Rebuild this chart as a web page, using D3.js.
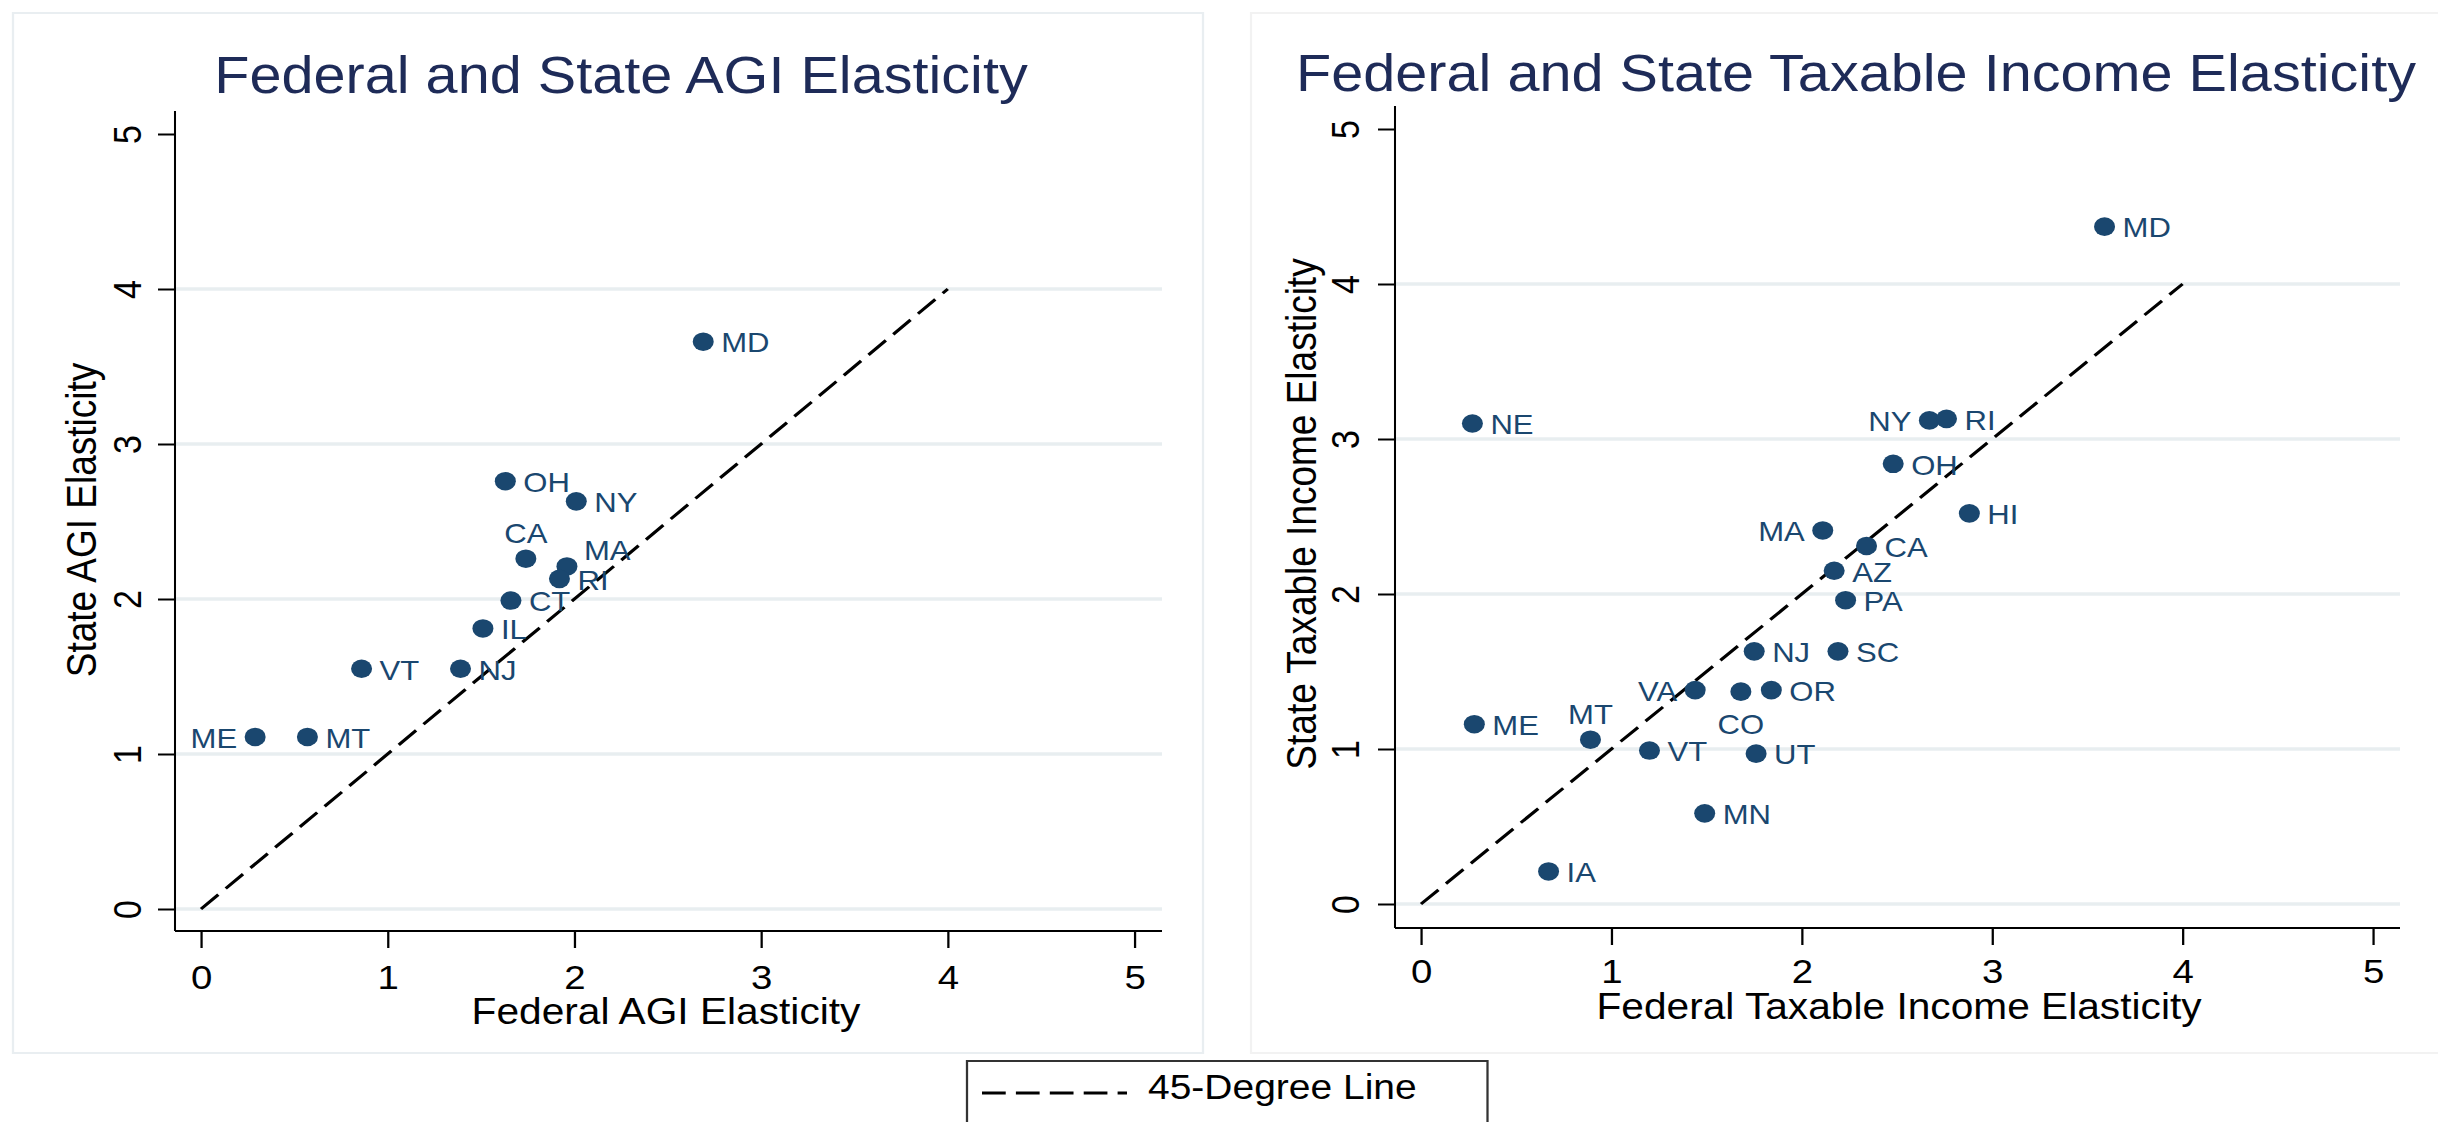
<html>
<head>
<meta charset="utf-8">
<title>Federal and State Elasticities</title>
<script src="https://d3js.org/d3.v7.min.js"></script>
<style>
  body { margin: 0; background: #fff; }
  text { font-family: "Liberation Sans", Arial, sans-serif; }
</style>
</head>
<body>
<script>
// ---- data ----
const ticks = [0, 1, 2, 3, 4, 5]
const diagonal = [0, 4]   // 45-degree line runs from 0 to 4

const agiStates  = ["MD", "OH", "NY", "CA", "MA", "RI", "CT", "IL", "NJ", "VT", "MT", "ME"]
const agiFederal = [2.69, 1.63, 2.01, 1.74, 1.96, 1.92, 1.66, 1.51, 1.39, 0.86, 0.57, 0.29]
const agiState   = [3.66, 2.76, 2.63, 2.26, 2.21, 2.13, 1.99, 1.81, 1.55, 1.55, 1.11, 1.11]
const agiLabelPos = [3, 3, 3, 12, 2, 3, 3, 3, 3, 3, 3, 9]   // clock positions of marker labels

const tiStates  = ["MD", "NE", "NY", "RI", "OH", "HI", "MA", "CA", "AZ", "PA", "NJ", "SC", "VA", "CO", "OR", "ME", "MT", "VT", "UT", "MN", "IA"]
const tiFederal = [3.59, 0.27, 2.67, 2.76, 2.48, 2.88, 2.11, 2.34, 2.17, 2.23, 1.75, 2.19, 1.44, 1.68, 1.84, 0.28, 0.89, 1.20, 1.76, 1.49, 0.67]
const tiState   = [4.37, 3.10, 3.12, 3.13, 2.84, 2.52, 2.41, 2.31, 2.15, 1.96, 1.63, 1.63, 1.38, 1.37, 1.38, 1.16, 1.06, 0.99, 0.97, 0.585, 0.21]
const tiLabelPos = [3, 3, 9, 3, 3, 3, 9, 3, 3, 3, 3, 3, 9, 6, 3, 3, 12, 3, 3, 3, 3]

const legendLabel = "45-Degree Line"

// ---- layout ----
const W = 2438, H = 1122
const SX = 1.13            // the original graph is stretched sideways a bit
const v = px => px / SX    // screen x -> drawing x

const navy = "#1a476f"
const gridColor = "#e8eef0"

// label offsets by clock position, screen px
const labelOffset = {
    3: { dx: 18, dy: 1, anchor: "start" },
    9: { dx: -18, dy: 1, anchor: "end" },
    12: { dx: 0, dy: -25, anchor: "middle" },
    6: { dx: 0, dy: 33, anchor: "middle" },
    2: { dx: 17, dy: -16, anchor: "start" }
}

const svg = d3.select("body").append("svg")
    .attr("width", W)
    .attr("height", H)

const root = svg.append("g").attr("transform", `scale(${SX},1)`)

function drawPanel(cfg) {
    const g = root.append("g")

    // panel frame
    g.append("rect")
        .attr("x", v(cfg.frame[0])).attr("y", cfg.frame[1])
        .attr("width", v(cfg.frame[2] - cfg.frame[0]))
        .attr("height", cfg.frame[3] - cfg.frame[1])
        .attr("fill", "#fff")
        .attr("stroke", cfg.frameColor)
        .attr("stroke-width", 2)

    const x = d3.scaleLinear().domain([0, 5]).range([v(cfg.xr[0]), v(cfg.xr[1])])
    const y = d3.scaleLinear().domain([0, 5]).range(cfg.yr)

    // grid lines (no line at the top tick)
    g.append("g").selectAll("line")
        .data(ticks.filter(t => t < 5))
        .enter().append("line")
        .attr("x1", v(cfg.box.x0)).attr("x2", v(cfg.box.x1))
        .attr("y1", d => y(d)).attr("y2", d => y(d))
        .attr("stroke", gridColor)
        .attr("stroke-width", 3.5)

    // x axis
    const xAxis = g.append("g")
        .attr("transform", `translate(0,${cfg.box.y1})`)
        .call(d3.axisBottom(x).tickValues(ticks).tickSize(17).tickFormat(d3.format("d")))
    xAxis.select(".domain").remove()
    xAxis.selectAll(".tick line").attr("stroke", "#000").attr("stroke-width", 2)
    xAxis.selectAll(".tick text")
        .attr("y", cfg.xTickY - cfg.box.y1)
        .attr("dy", 0)
        .attr("fill", "#000")
        .attr("font-size", 34)
        .attr("font-family", "Liberation Sans, Arial, sans-serif")

    // y axis, labels turned sideways
    const yAxis = g.append("g")
        .attr("transform", `translate(${v(cfg.box.x0)},0)`)
        .call(d3.axisLeft(y).tickValues(ticks).tickSize(17 / SX).tickFormat(d3.format("d")))
    yAxis.select(".domain").remove()
    yAxis.selectAll(".tick line").attr("stroke", "#000").attr("stroke-width", 2)
    yAxis.selectAll(".tick text")
        .attr("transform", "rotate(-90)")
        .attr("x", 0)
        .attr("y", -v(cfg.box.x0 - cfg.yTickX))
        .attr("dy", 0)
        .attr("text-anchor", "middle")
        .attr("fill", "#000")
        .attr("font-size", 34)
        .attr("font-family", "Liberation Sans, Arial, sans-serif")

    // axis lines
    g.append("line")
        .attr("x1", v(cfg.box.x0)).attr("x2", v(cfg.box.x1))
        .attr("y1", cfg.box.y1).attr("y2", cfg.box.y1)
        .attr("stroke", "#000").attr("stroke-width", 2.2)
    g.append("line")
        .attr("x1", v(cfg.box.x0)).attr("x2", v(cfg.box.x0))
        .attr("y1", cfg.box.y0).attr("y2", cfg.box.y1)
        .attr("stroke", "#000").attr("stroke-width", 1.8)

    // 45-degree line
    g.append("line")
        .attr("x1", x(diagonal[0])).attr("y1", y(diagonal[0]))
        .attr("x2", x(diagonal[1])).attr("y2", y(diagonal[1]))
        .attr("stroke", "#000")
        .attr("stroke-width", 3)
        .attr("stroke-dasharray", "21,9")

    // points
    const pts = cfg.states.map((s, i) => ({ s: s, fx: cfg.fed[i], sy: cfg.st[i], pos: cfg.pos[i] }))
    g.append("g").selectAll("circle")
        .data(pts)
        .enter().append("circle")
        .attr("cx", d => x(d.fx))
        .attr("cy", d => y(d.sy))
        .attr("r", 9.3)
        .attr("fill", navy)

    g.append("g").selectAll("text")
        .data(pts)
        .enter().append("text")
        .attr("x", d => x(d.fx) + v(labelOffset[d.pos].dx))
        .attr("y", d => y(d.sy) + labelOffset[d.pos].dy + 9.8)
        .attr("text-anchor", d => labelOffset[d.pos].anchor)
        .attr("font-size", 27.5)
        .attr("fill", navy)
        .text(d => d.s)

    // titles
    g.append("text")
        .attr("x", v(cfg.titleX)).attr("y", cfg.titleY)
        .attr("text-anchor", "middle")
        .attr("font-size", 51)
        .attr("fill", "#1e2b58")
        .text(cfg.title)

    g.append("text")
        .attr("x", v(cfg.xTitleX)).attr("y", cfg.xTitleY)
        .attr("text-anchor", "middle")
        .attr("font-size", 36)
        .attr("fill", "#000")
        .text(cfg.xTitle)

    g.append("text")
        .attr("transform", `translate(${v(cfg.yTitleX)},${cfg.yTitleY}) rotate(-90)`)
        .attr("text-anchor", "middle")
        .attr("font-size", 37)
        .attr("fill", "#000")
        .text(cfg.yTitle)
}

drawPanel({
    frame: [13, 13, 1203, 1053], frameColor: "#e9eef1",
    box: { x0: 175, x1: 1162, y0: 111, y1: 931 },
    xr: [201, 1134.5], yr: [909, 134],
    xTickY: 989, yTickX: 141,
    states: agiStates, fed: agiFederal, st: agiState, pos: agiLabelPos,
    title: "Federal and State AGI Elasticity", titleX: 621, titleY: 93,
    xTitle: "Federal AGI Elasticity", xTitleX: 666, xTitleY: 1024,
    yTitle: "State AGI Elasticity", yTitleX: 96, yTitleY: 520
})

drawPanel({
    frame: [1251, 13, 2460, 1053], frameColor: "#f2f2f2",
    box: { x0: 1395, x1: 2400, y0: 106, y1: 928 },
    xr: [1421, 2373], yr: [904, 129],
    xTickY: 983, yTickX: 1359,
    states: tiStates, fed: tiFederal, st: tiState, pos: tiLabelPos,
    title: "Federal and State Taxable Income Elasticity", titleX: 1856, titleY: 91,
    xTitle: "Federal Taxable Income Elasticity", xTitleX: 1899, xTitleY: 1019,
    yTitle: "State Taxable Income Elasticity", yTitleX: 1316, yTitleY: 514
})

// legend
const legend = root.append("g")
legend.append("rect")
    .attr("x", v(967)).attr("y", 1061)
    .attr("width", v(1487.5 - 967)).attr("height", 120)
    .attr("fill", "#fff")
    .attr("stroke", "#333")
    .attr("stroke-width", 2)
legend.append("line")
    .attr("x1", v(982)).attr("x2", v(1127))
    .attr("y1", 1093).attr("y2", 1093)
    .attr("stroke", "#000")
    .attr("stroke-width", 3)
    .attr("stroke-dasharray", "21,9")
legend.append("text")
    .attr("x", v(1148)).attr("y", 1099)
    .attr("font-size", 34.5)
    .attr("fill", "#000")
    .text(legendLabel)
</script>
</body>
</html>
